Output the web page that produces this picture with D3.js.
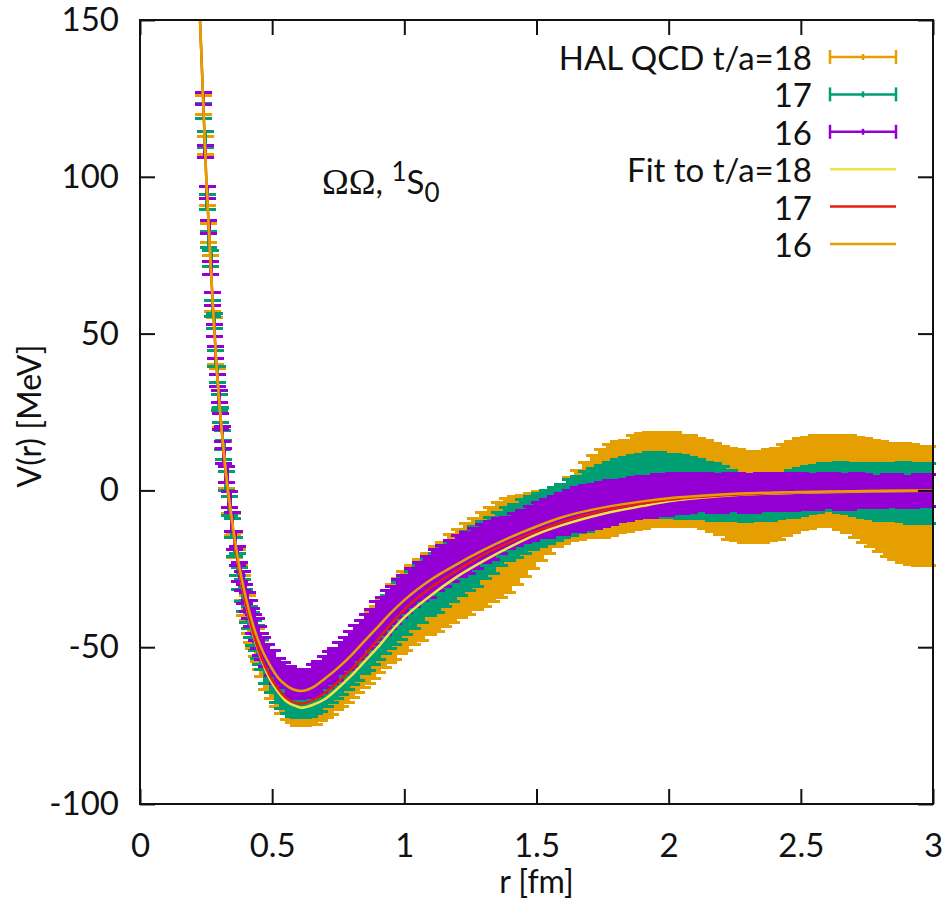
<!DOCTYPE html>
<html>
<head>
<meta charset="utf-8">
<script src="https://cdn.jsdelivr.net/npm/d3@7"></script>
<style>
  body { margin: 0; background: #fff; }
  svg { display: block; }
  text { font-family: Lato, "Open Sans", sans-serif; fill: #111; }
</style>
</head>
<body>
<div id="container"></div>
<script>
// lattice distances r [fm] (shared by the three time slices)
const rVals = [
  0.239, 0.246, 0.254, 0.261, 0.268, 0.275, 0.281, 0.287, 0.293, 0.299,
  0.305, 0.311, 0.317, 0.327, 0.338, 0.349, 0.359, 0.369, 0.378, 0.388,
  0.397, 0.406, 0.414, 0.423, 0.431, 0.439, 0.447, 0.456, 0.463, 0.48,
  0.50, 0.52, 0.54, 0.56, 0.58, 0.60, 0.62, 0.64, 0.66, 0.68,
  0.70, 0.72, 0.74, 0.76, 0.78, 0.80, 0.82, 0.84, 0.86, 0.88,
  0.90, 0.92, 0.94, 0.96, 0.98, 1.00, 1.03, 1.06, 1.09, 1.12,
  1.15, 1.18, 1.21, 1.24, 1.27, 1.30, 1.33, 1.36, 1.39, 1.42,
  1.45, 1.48, 1.51, 1.54, 1.57, 1.60, 1.63, 1.66, 1.69, 1.72,
  1.75, 1.78, 1.81, 1.84, 1.87, 1.90, 1.93, 1.96, 1.99, 2.02,
  2.05, 2.08, 2.11, 2.14, 2.17, 2.20, 2.23, 2.26, 2.29, 2.32,
  2.35, 2.38, 2.41, 2.44, 2.47, 2.50, 2.53, 2.56, 2.59, 2.62,
  2.65, 2.68, 2.71, 2.74, 2.77, 2.80, 2.83, 2.86, 2.89, 2.92,
  2.95, 2.98
];

// t/a = 16
const v16 = [
  125, 108, 95, 84, 71, 61, 51, 44, 35, 30,
  22, 18, 11, 5, -3, -10, -16, -21, -26, -29,
  -33, -35.5, -38, -40.5, -42.5, -44.5, -47, -49, -50.5, -52.5,
  -55, -57.5, -59, -60.5, -61.5, -62, -61.5, -61.5, -60.5, -59.5,
  -58, -56.5, -55.5, -53.5, -52, -50.5, -48.5, -47, -45, -43.5,
  -41.5, -40, -38, -36.5, -34.5, -33, -31, -29, -27.5, -25.5,
  -24, -22.5, -21, -20, -18.5, -17, -16, -14.5, -13.5, -12.5,
  -11.5, -10.5, -9.5, -9, -8, -7.5, -6.5, -6, -5.5, -5,
  -4.5, -4, -3.5, -3, -2.5, -2, -2, -1.5, -1.5, -1,
  -1, -1, -0.5, -0.5, -1, -1, -0.5, -0.5, -1, -1,
  -0.5, -0.5, -0.5, -0.5, -0.5, 0, -0.5, -0.5, 0, 0,
  -0.5, -0.5, 0, 0, -0.5, -0.5, 0, 0, -0.5, -0.5,
  0, 0
];
const e16 = [
  2, 2, 2, 2, 2, 2, 2, 2, 2, 2,
  2.5, 2.5, 2.5, 2.5, 2.5, 3, 3, 3, 3, 3,
  3, 3, 3, 3, 3, 3.5, 3.5, 3.5, 3.5, 3.5,
  4, 4, 4, 4.5, 4.5, 4.5, 4.5, 4.5, 5, 5,
  5, 5, 5, 5, 5, 5.5, 5.5, 5.5, 5.5, 5.5,
  6, 6, 6, 6, 6, 6, 6, 6, 6.5, 6.5,
  6.5, 6.5, 6.5, 6.5, 6.5, 6, 6, 5.5, 5, 5,
  5, 5.5, 5.5, 6, 6, 6.5, 6.5, 7, 7, 7,
  7, 7, 6.5, 6.5, 6.5, 6.5, 6.5, 6.5, 6.5, 6.5,
  6.5, 6, 6, 6, 6, 6, 6, 6, 6, 6,
  6, 6, 6, 6, 6, 5.5, 5.5, 5.5, 5.5, 5.5,
  5.5, 5.5, 5.5, 5, 5, 5, 5, 5, 5, 5,
  5, 5
];

// t/a = 17
const v17 = [
  121, 112, 92, 80, 74, 58, 54, 42, 37, 28,
  24, 16, 13, 3, -5, -12, -18, -23.5, -28, -32,
  -35, -38.5, -40.5, -43, -45.5, -47, -49.5, -51.5, -53, -57.5,
  -60.5, -63, -65, -66.5, -67, -67.5, -67.5, -67, -66, -65,
  -63.5, -62, -60.5, -59, -57, -55.5, -53.5, -51.5, -50, -48,
  -46, -44, -42, -40.5, -38.5, -37, -35, -33, -31, -29.5,
  -27.5, -26, -24, -22.5, -21, -19, -17.5, -15.5, -14, -13,
  -11.5, -10.5, -9.5, -8.5, -7.5, -6.5, -5.5, -4.5, -3.5, -2.5,
  -1.5, -1, 0, 0.5, 1, 1.5, 2, 2, 1.5, 1.5,
  1, 1, 0.5, 0, -0.5, -1, -1.5, -2, -2.5, -2.5,
  -2.5, -2.5, -2, -1.5, -1, -0.5, 0, 0.5, 1, 1,
  1, 0.5, 0, 0, -0.5, -0.5, -0.5, -0.5, -0.5, -1,
  -1, -1
];
const e17 = [
  2.5, 2.5, 2.5, 2.5, 2.5, 2.5, 2.5, 2.5, 2.5, 2.5,
  2.5, 3, 3, 3, 3, 3, 3, 3.5, 3.5, 3.5,
  3.5, 3.5, 3.5, 4, 4, 4, 4, 4, 4, 4,
  4, 4.5, 4.5, 4.5, 5, 5, 5, 5, 5, 5.5,
  5.5, 5.5, 6, 6, 6.5, 6.5, 7, 7, 7.5, 7.5,
  8, 8, 8.5, 8.5, 9, 9, 9, 9, 9, 9.5,
  9.5, 9.5, 9.5, 9.5, 9.5, 9, 9, 8.5, 8.5, 8.5,
  8.5, 8.5, 8.5, 8.5, 8.5, 8.5, 9, 9, 9.5, 9.5,
  9.5, 10, 10, 10, 10, 10, 10, 10, 10, 10,
  10, 9.5, 9.5, 9, 9, 8.5, 8, 7.5, 7.5, 7,
  7, 7, 7, 7, 7.5, 7.5, 7.5, 7.5, 7.5, 7.5,
  8, 8, 8, 8.5, 8.5, 9, 9, 9, 9.5, 9.5,
  9.5, 9.5
];

// t/a = 18
const v18 = [
  123, 110, 94, 82, 72, 60, 52, 43, 36, 29,
  23, 17, 12, 4, -4, -11, -17.5, -23, -27.5, -31,
  -36, -37.5, -41.5, -44, -46, -48.5, -50, -52.5, -54.5, -58.5,
  -61.5, -64, -66, -67.5, -68.5, -69, -69, -68.5, -68, -67,
  -65.5, -64, -62.5, -61, -59, -57.5, -55.5, -53.5, -51.5, -49.5,
  -47.5, -45.5, -43.5, -42, -40, -38.5, -36.5, -35, -33, -31.5,
  -30, -28, -26.5, -25, -23.5, -22, -20.5, -19, -17.5, -16,
  -14.5, -13, -11.5, -10, -8.5, -7.5, -6, -4.5, -3, -2,
  -1, 0, 1, 1.5, 2.5, 3, 3.5, 3.5, 3.5, 3.5,
  3, 3, 2.5, 2, 1, 0, -1, -1.5, -2, -2,
  -2, -1.5, -1, 0, 1, 2, 2.5, 3, 3, 3,
  2.5, 2, 1, 0, -1, -2, -3, -3.5, -4, -4.5,
  -5, -5
];
const e18 = [
  3, 3, 3, 3, 3, 3, 3, 3, 3, 3,
  3, 3.5, 3.5, 3.5, 3.5, 3.5, 4, 4, 4, 4,
  4, 4, 4, 4.5, 4.5, 4.5, 4.5, 4.5, 5, 5,
  5, 5, 5, 5.5, 5.5, 6, 6, 6, 6.5, 6.5,
  7, 7.5, 7.5, 8, 8.5, 8.5, 9, 9.5, 10, 10.5,
  10.5, 11, 11.5, 12, 12, 12.5, 12.5, 13, 13, 13.5,
  13.5, 14, 14, 14.5, 14.5, 15, 15, 15, 15, 14,
  13, 12, 11, 10, 9.5, 9.5, 10, 11, 12, 13,
  14, 14.5, 14.5, 14.5, 15, 15, 15, 15, 15, 15,
  14.5, 14.5, 14, 14, 14, 14, 14.5, 14.5, 14.5, 14.5,
  14.5, 14.5, 14.5, 14.5, 14.5, 14.5, 14.5, 14.5, 14.5, 14.5,
  15, 15.5, 16, 16.5, 17, 17.5, 18, 18.5, 19, 19,
  19, 19
];

// fitted curves
const fitR = [
  0.215, 0.227, 0.24, 0.25, 0.265, 0.277, 0.29, 0.30, 0.315, 0.33,
  0.35, 0.37, 0.40, 0.43, 0.46, 0.49, 0.52, 0.55, 0.58, 0.61,
  0.65, 0.70, 0.75, 0.80, 0.85, 0.90, 0.95, 1.0, 1.1, 1.2,
  1.3, 1.4, 1.5, 1.6, 1.75, 1.9, 2.0, 2.2, 2.5, 2.75, 3.0
];
const fit16 = [
  172, 150, 122, 101, 76, 57, 39, 28, 14, 2,
  -10.5, -21.5, -34, -43.5, -50.5, -55.5, -59.5, -62, -63.5, -64,
  -63, -60, -56.5, -52.5, -48, -43.5, -39, -35, -28.5, -23.5,
  -19, -15, -11.5, -8.5, -5.5, -3.5, -2.5, -1.3, -0.5, -0.2, 0
];
const fit17 = [
  172, 150, 122, 101, 76, 57, 39, 28, 13.5, 1,
  -11.5, -23, -36, -46, -53.5, -59, -63, -66, -67.5, -68,
  -67, -64.5, -61, -57, -52.5, -47.5, -42.5, -38, -31, -25.5,
  -20.5, -16.5, -13, -10, -6.5, -4.2, -3, -1.6, -0.6, -0.2, 0
];
const fit18 = [
  172, 150, 122, 101, 76, 57, 39, 28, 13.5, 1,
  -11.5, -23, -36, -46.5, -54, -60, -64, -67, -68.5, -69.3,
  -68.5, -66.5, -63, -59, -54.5, -50, -45, -40.5, -33.5, -27.5,
  -22.5, -18, -14, -11, -7.5, -5, -3.5, -1.8, -0.7, -0.3, -0.1
];

const xTicks = [0, 0.5, 1, 1.5, 2, 2.5, 3];
const yTicks = [-100, -50, 0, 50, 100, 150];
const legendLabels = ["HAL QCD t/a=18", "17", "16", "Fit to t/a=18", "17", "16"];

const width = 948;
const height = 903;
const margin = { top: 20, right: 15, bottom: 99, left: 140 };

const svg = d3.select("#container")
  .append("svg")
  .attr("width", width)
  .attr("height", height);

const x = d3.scaleLinear().domain([0, 3]).range([margin.left, width - margin.right]);
const y = d3.scaleLinear().domain([-100, 150]).range([height - margin.bottom, margin.top]);

svg.append("clipPath").attr("id", "plotClip")
  .append("rect")
  .attr("x", margin.left).attr("y", margin.top)
  .attr("width", width - margin.left - margin.right)
  .attr("height", height - margin.top - margin.bottom);

// bar width follows the local spacing so the dense points merge into bands
function barWidth(i) {
  const j = i < rVals.length - 1 ? i + 1 : i - 1;
  const gap = Math.abs(x(rVals[j]) - x(rVals[i]));
  return Math.max(2, Math.min(10, gap + 1.5));
}

const dataSeries = [
  { v: v18, e: e18, color: "#e69f00" },
  { v: v17, e: e17, color: "#009e73" },
  { v: v16, e: e16, color: "#9400d3" }
];
const capHalf = 8.5;

dataSeries.forEach(s => {
  const pts = rVals.map((r, i) => ({ r, v: s.v[i], e: s.e[i], i }));
  const g = svg.append("g")
    .attr("stroke", s.color)
    .attr("fill", "none")
    .attr("shape-rendering", "crispEdges");
  g.selectAll("line.bar").data(pts).join("line")
    .attr("class", "bar")
    .attr("x1", d => x(d.r)).attr("x2", d => x(d.r))
    .attr("y1", d => y(d.v - d.e)).attr("y2", d => y(d.v + d.e))
    .attr("stroke-width", d => barWidth(d.i));
  g.selectAll("line.capHi").data(pts).join("line")
    .attr("class", "capHi")
    .attr("x1", d => x(d.r) - capHalf).attr("x2", d => x(d.r) + capHalf)
    .attr("y1", d => y(d.v + d.e)).attr("y2", d => y(d.v + d.e))
    .attr("stroke-width", 3);
  g.selectAll("line.capLo").data(pts).join("line")
    .attr("class", "capLo")
    .attr("x1", d => x(d.r) - capHalf).attr("x2", d => x(d.r) + capHalf)
    .attr("y1", d => y(d.v - d.e)).attr("y2", d => y(d.v - d.e))
    .attr("stroke-width", 3);
});

// fit lines
const fitSeries = [
  { v: fit18, color: "#f0e442" },
  { v: fit17, color: "#e51e10" },
  { v: fit16, color: "#e69f00" }
];
const line = d3.line()
  .x(d => x(d[0]))
  .y(d => y(d[1]))
  .curve(d3.curveMonotoneX);

fitSeries.forEach(f => {
  svg.append("path")
    .attr("clip-path", "url(#plotClip)")
    .attr("d", line(fitR.map((r, i) => [r, f.v[i]])))
    .attr("fill", "none")
    .attr("stroke", f.color)
    .attr("stroke-width", 2.5);
});

// axes, ticks pointing inwards on all four sides
const tickLen = 15;
const fmt = d => String(d);

const xAxis = svg.append("g")
  .attr("transform", `translate(0,${y(-100)})`)
  .call(d3.axisBottom(x).tickValues(xTicks).tickSize(-tickLen).tickPadding(30).tickFormat(fmt));
const xAxisTop = svg.append("g")
  .attr("transform", `translate(0,${y(150)})`)
  .call(d3.axisTop(x).tickValues(xTicks).tickSize(-tickLen).tickFormat(""));
const yAxis = svg.append("g")
  .attr("transform", `translate(${x(0)},0)`)
  .call(d3.axisLeft(y).tickValues(yTicks).tickSize(-tickLen).tickPadding(21).tickFormat(fmt));
const yAxisRight = svg.append("g")
  .attr("transform", `translate(${x(3)},0)`)
  .call(d3.axisRight(y).tickValues(yTicks).tickSize(-tickLen).tickFormat(""));

[xAxis, xAxisTop, yAxis, yAxisRight].forEach(g => {
  g.select(".domain").remove();
  g.selectAll(".tick line").attr("stroke", "#111").attr("stroke-width", 2);
  g.selectAll("text").attr("font-size", 33).attr("fill", "#111")
    .attr("font-family", "Lato, 'Open Sans', sans-serif");
});

svg.append("rect")
  .attr("x", x(0)).attr("y", y(150))
  .attr("width", x(3) - x(0)).attr("height", y(-100) - y(150))
  .attr("fill", "none").attr("stroke", "#111").attr("stroke-width", 2);

// axis titles
svg.append("text")
  .attr("x", (x(0) + x(3)) / 2).attr("y", 893)
  .attr("text-anchor", "middle").attr("font-size", 32)
  .text("r [fm]");
svg.append("text")
  .attr("transform", `translate(41,416) rotate(-90)`)
  .attr("text-anchor", "middle").attr("font-size", 32)
  .text("V(r) [MeV]");

// annotation
const note = svg.append("text").attr("x", 322).attr("y", 194).attr("font-size", 33);
note.append("tspan").attr("font-family", "'Liberation Serif', serif").attr("font-size", 36).text("ΩΩ");
note.append("tspan").text(", ");
note.append("tspan").attr("font-size", 26).attr("dy", -13).text("1");
note.append("tspan").attr("dy", 13).text("S");
note.append("tspan").attr("font-size", 26).attr("dy", 8).text("0");

// legend
const legY0 = 57, legDy = 37.4, legTextX = 812, legX1 = 830, legX2 = 896;
const legColors = ["#e69f00", "#009e73", "#9400d3", "#f0e442", "#e51e10", "#e69f00"];
const legend = svg.append("g");
legendLabels.forEach((label, i) => {
  const yy = legY0 + i * legDy;
  legend.append("text")
    .attr("x", legTextX).attr("y", yy)
    .attr("text-anchor", "end").attr("dominant-baseline", "central")
    .attr("font-size", 33)
    .text(label);
  const g = legend.append("g").attr("stroke", legColors[i]).attr("stroke-width", 2.5);
  g.append("line").attr("x1", legX1).attr("x2", legX2).attr("y1", yy).attr("y2", yy);
  if (i < 3) {
    g.append("line").attr("x1", legX1).attr("x2", legX1).attr("y1", yy - 7).attr("y2", yy + 7);
    g.append("line").attr("x1", legX2).attr("x2", legX2).attr("y1", yy - 7).attr("y2", yy + 7);
    g.append("line").attr("x1", (legX1 + legX2) / 2).attr("x2", (legX1 + legX2) / 2)
      .attr("y1", yy - 3).attr("y2", yy + 3);
  }
});
</script>
</body>
</html>
